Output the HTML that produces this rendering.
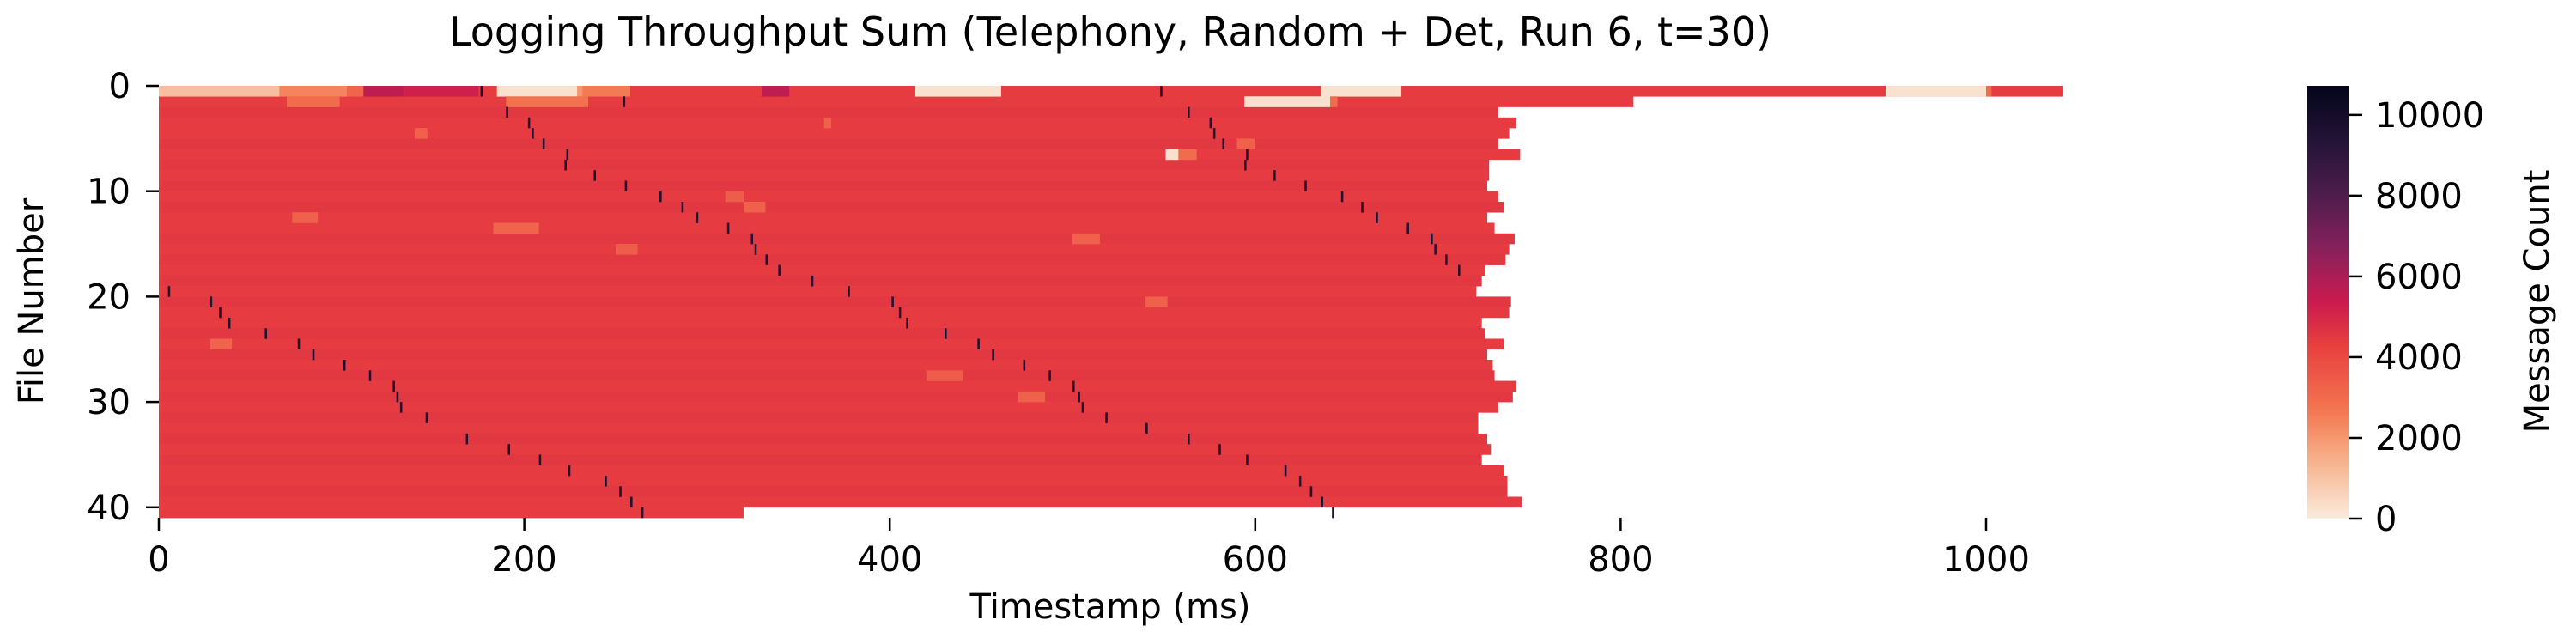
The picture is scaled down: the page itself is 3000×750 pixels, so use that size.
<!DOCTYPE html>
<html><head><meta charset="utf-8">
<style>
html,body{margin:0;padding:0;background:#fff;}
svg{display:block;font-family:"DejaVu Sans","Liberation Sans",sans-serif;}
</style></head>
<body>
<svg id="chart" width="3000" height="750" viewBox="0 0 3000 750" xmlns="http://www.w3.org/2000/svg">
<text x="1293" y="53" font-size="46" text-anchor="middle">Logging Throughput Sum (Telephony, Random + Det, Run 6, t=30)</text>
<g id="cells"></g>
<g id="axes"></g>
<text x="1293" y="720" font-size="40" text-anchor="middle">Timestamp (ms)</text>
<text x="50" y="351" font-size="40" text-anchor="middle" transform="rotate(-90 50 351)">File Number</text>
<defs>
<linearGradient id="cbgrad" x1="0" y1="1" x2="0" y2="0">
<stop offset="0" stop-color="#faebdd"/><stop offset="0.15" stop-color="#f6aa82"/><stop offset="0.25" stop-color="#f37651"/><stop offset="0.4" stop-color="#e83f3f"/><stop offset="0.5" stop-color="#cb1b4f"/><stop offset="0.625" stop-color="#86215c"/><stop offset="0.75" stop-color="#4c1d4b"/><stop offset="0.875" stop-color="#231336"/><stop offset="1" stop-color="#03051a"/>
</linearGradient>
</defs>
<rect x="2687" y="100" width="49" height="504" fill="url(#cbgrad)"/>
<g id="cbticks"></g>
<text x="2968" y="351" font-size="40" text-anchor="middle" transform="rotate(-90 2968 351)">Message Count</text>
</svg>
<script>
// ---- data ----
const rowEnds = [1042,807,733,743,739,733,745,728,728,727,733,736,727,731,742,739,737,726,724,721,740,739,724,726,736,727,730,731,743,741,733,722,722,727,729,724,736,738,738,746,320];
const rowBase = [4400,4400,4500,4400,4400,4500,4400,4500,4400,4500,4400,4500,4400,4400,4500,4400,4500,4400,4500,4400,4500,4400,4400,4500,4400,4500,4400,4500,4400,4500,4400,4500,4400,4500,4400,4500,4400,4400,4500,4400,4400];
// patches: row, start ms, end ms, value
const patchRow   = [0,0,0,0,0,0,0,0,0,0,0,0,0,1,1,1,1,6,6,12,13,24,4,3,10,11,14,27,29,15,20,5];
const patchStart = [0,66,103,112,134,185,229,232,330,414,636,945,1000,70,190,594,641,551,558,73,183,28,140,364,310,320,500,420,470,250,540,590];
const patchEnd   = [66,103,112,134,175,229,232,258,345,461,680,1000,1003,99,235,641,645,558,568,87,208,40,147,368,320,332,515,440,485,262,552,600];
const patchVal   = [1100,2400,3200,5600,5200,250,2000,2600,5600,250,250,250,3000,3000,2800,250,3000,250,3000,3300,3200,3200,3300,3300,3400,3300,3300,3400,3300,3400,3300,3300];
// dark spikes: row, ms
const darkRow = [0,0,1,2,2,3,3,4,4,5,5,6,6,7,7,8,8,9,9,10,10,11,11,12,12,13,13,14,14,15,15,16,16,17,17,18,19,19,20,20,21,21,22,22,23,23,24,24,25,25,26,26,27,27,28,28,29,29,30,30,31,31,32,33,33,34,34,35,35,36,36,37,37,38,38,39,39,40,40];
const darkMs  = [176,548,254,190,563,202,575,204,577,210,582,223,595,222,594,238,610,255,627,274,647,286,658,294,666,311,683,324,696,326,698,332,704,339,711,357,377,5,401,28,405,33,409,38,430,58,448,76,456,84,473,101,487,115,500,128,503,130,505,132,518,146,540,168,563,191,580,208,595,224,616,244,624,252,630,258,636,264,642];
const darkVal = 9500;
const yTicks = [0,10,20,30,40];
const xTicks = [0,200,400,600,800,1000];
const cbTicks = [0,2000,4000,6000,8000,10000];
const vmax = 10720;

// ---- scales ----
const X0 = 185, PXMS = 2.128, Y0 = 100, ROWH = 12.27;
const xs = ms => X0 + ms * PXMS;
const ys = r => Y0 + r * ROWH;
const cbY = v => 604 - v / vmax * 504;

const stops = [[0,[250,235,221]],[0.15,[246,170,130]],[0.25,[243,118,81]],[0.4,[232,63,63]],[0.5,[203,27,79]],[0.625,[134,33,92]],[0.75,[76,29,75]],[0.875,[35,19,54]],[1,[3,5,26]]];
function color(v){
  let t = Math.max(0, Math.min(1, v / vmax));
  for (let i = 1; i < stops.length; i++) {
    if (t <= stops[i][0]) {
      const a = stops[i-1], b = stops[i], f = (t - a[0]) / (b[0] - a[0]);
      const c = a[1].map((x, k) => Math.round(x + (b[1][k] - x) * f));
      return `rgb(${c[0]},${c[1]},${c[2]})`;
    }
  }
  return 'rgb(3,5,26)';
}
const NS = 'http://www.w3.org/2000/svg';
const cells = document.getElementById('cells');
function rect(x0, x1, r, v, name){
  const el = document.createElementNS(NS, 'rect');
  el.setAttribute('x', xs(x0));
  el.setAttribute('y', ys(r));
  el.setAttribute('width', Math.max(0.5, (x1 - x0) * PXMS));
  el.setAttribute('height', ROWH + 0.3);
  el.setAttribute('fill', color(v));
  
  
  cells.appendChild(el);
}
rowEnds.forEach((e, r) => rect(0, e, r, rowBase[r], 'row-' + r));
patchRow.forEach((r, i) => rect(patchStart[i], Math.min(patchEnd[i], rowEnds[r]), r, patchVal[i], 'patch-cell'));
darkRow.forEach((r, i) => rect(darkMs[i], darkMs[i] + 1.2, r, darkVal, 'peak-cell'));

// ---- axes ----
const axes = document.getElementById('axes');
function line(x1,y1,x2,y2,parent,name){
  const l = document.createElementNS(NS, 'line');
  l.setAttribute('x1',x1); l.setAttribute('y1',y1); l.setAttribute('x2',x2); l.setAttribute('y2',y2);
  l.setAttribute('stroke','#000'); l.setAttribute('stroke-width','2.5');
  
  
  parent.appendChild(l);
}
function text(x,y,s,anchor,parent,name){
  const t = document.createElementNS(NS, 'text');
  t.setAttribute('x',x); t.setAttribute('y',y); t.setAttribute('font-size','40');
  t.setAttribute('text-anchor',anchor);
  
  
  t.textContent = s;
  parent.appendChild(t);
}
yTicks.forEach(v => { const y = ys(v); line(170, y, 185, y, axes, 'y-tick'); text(152, y + 14, String(v), 'end', axes, 'y-tick-label'); });
xTicks.forEach(v => { const x = xs(v); line(x, 603, x, 618, axes, 'x-tick'); text(x, 665, String(v), 'middle', axes, 'x-tick-label'); });
const cbt = document.getElementById('cbticks');
cbTicks.forEach(v => { const y = cbY(v); line(2736, y, 2751, y, cbt, 'colorbar-tick'); text(2766, y + 14, String(v), 'start', cbt, 'colorbar-tick-label'); });
</script>
</body></html>
